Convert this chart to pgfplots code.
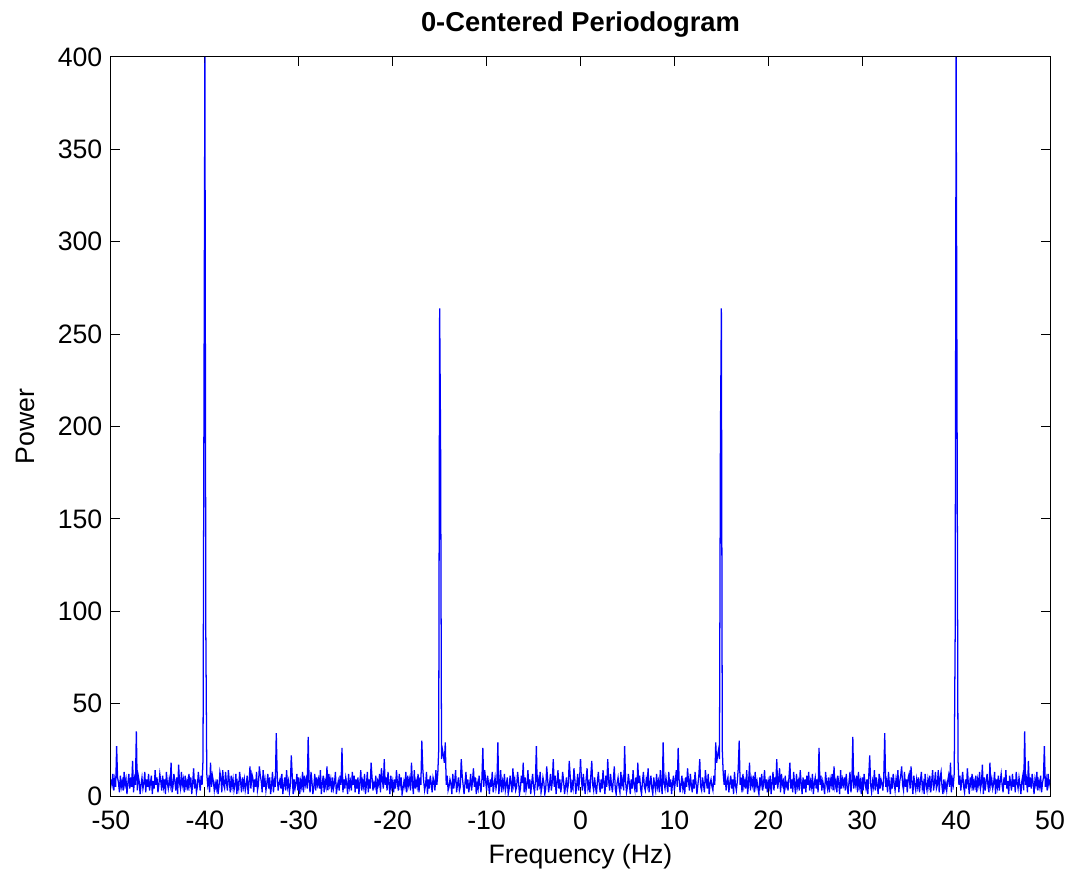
\documentclass[border=0pt]{standalone}
\usepackage{pgfplots}
\usepackage{pgfplotstable}
\pgfplotsset{compat=1.18}
\usepackage{fontspec}
\setmainfont{Liberation Sans}
\pgfplotstableread[row sep=\\]{
f p\\
0.0 20\\ 0.1 9\\ 0.2 3\\ 0.3 12\\ 0.4 6\\ 0.5 1\\ 0.6 9\\ 0.7 15\\ 0.8 4\\ 0.9 7\\
1.0 2\\ 1.1 11\\ 1.2 19\\ 1.3 6\\ 1.4 3\\ 1.5 10\\ 1.6 5\\ 1.7 1\\ 1.8 8\\ 1.9 13\\
2.0 6\\ 2.1 2\\ 2.2 9\\ 2.3 4\\ 2.4 14\\ 2.5 7\\ 2.6 1\\ 2.7 11\\ 2.8 5\\ 2.9 20\\
3.0 8\\ 3.1 3\\ 3.2 12\\ 3.3 6\\ 3.4 2\\ 3.5 9\\ 3.6 16\\ 3.7 4\\ 3.8 1\\ 3.9 7\\
4.0 10\\ 4.1 5\\ 4.2 2\\ 4.3 13\\ 4.4 6\\ 4.5 9\\ 4.6 3\\ 4.7 27\\ 4.8 8\\ 4.9 2\\
5.0 5\\ 5.1 12\\ 5.2 7\\ 5.3 1\\ 5.4 9\\ 5.5 4\\ 5.6 14\\ 5.7 6\\ 5.8 3\\ 5.9 10\\
6.0 2\\ 6.1 18\\ 6.2 7\\ 6.3 11\\ 6.4 4\\ 6.5 1\\ 6.6 8\\ 6.7 13\\ 6.8 5\\ 6.9 3\\
7.0 9\\ 7.1 6\\ 7.2 15\\ 7.3 2\\ 7.4 7\\ 7.5 11\\ 7.6 4\\ 7.7 1\\ 7.8 10\\ 7.9 6\\
8.0 3\\ 8.1 12\\ 8.2 5\\ 8.3 8\\ 8.4 2\\ 8.5 14\\ 8.6 6\\ 8.7 1\\ 8.8 29\\ 8.9 7\\
9.0 4\\ 9.1 10\\ 9.2 6\\ 9.3 2\\ 9.4 13\\ 9.5 5\\ 9.6 9\\ 9.7 1\\ 9.8 7\\ 9.9 11\\
10.0 3\\ 10.1 8\\ 10.2 14\\ 10.3 5\\ 10.4 26\\ 10.5 9\\ 10.6 2\\ 10.7 6\\ 10.8 11\\ 10.9 4\\
11.0 7\\ 11.1 1\\ 11.2 10\\ 11.3 5\\ 11.4 15\\ 11.5 8\\ 11.6 3\\ 11.7 12\\ 11.8 6\\ 11.9 2\\
12.0 9\\ 12.1 4\\ 12.2 13\\ 12.3 7\\ 12.4 1\\ 12.5 6\\ 12.6 11\\ 12.7 20\\ 12.8 5\\ 12.9 3\\
13.0 10\\ 13.1 6\\ 13.2 2\\ 13.3 14\\ 13.4 8\\ 13.5 4\\ 13.6 12\\ 13.7 1\\ 13.8 7\\ 13.9 9\\
14.0 5\\ 14.1 3\\ 14.2 11\\ 14.3 6\\ 14.4 29\\ 14.5 18\\ 14.6 22\\ 14.7 25\\ 14.8 20\\ 14.9 192\\
15.0 264\\ 15.1 25\\ 15.2 12\\ 15.3 6\\ 15.4 14\\ 15.5 3\\ 15.6 8\\ 15.7 10\\ 15.8 2\\ 15.9 7\\
16.0 11\\ 16.1 4\\ 16.2 9\\ 16.3 1\\ 16.4 13\\ 16.5 6\\ 16.6 3\\ 16.7 8\\ 16.8 15\\ 16.9 30\\
17.0 6\\ 17.1 10\\ 17.2 2\\ 17.3 12\\ 17.4 5\\ 17.5 8\\ 17.6 4\\ 17.7 14\\ 17.8 1\\ 17.9 7\\
18.0 18\\ 18.1 3\\ 18.2 9\\ 18.3 6\\ 18.4 11\\ 18.5 2\\ 18.6 13\\ 18.7 5\\ 18.8 8\\ 18.9 4\\
19.0 1\\ 19.1 10\\ 19.2 6\\ 19.3 12\\ 19.4 3\\ 19.5 7\\ 19.6 14\\ 19.7 4\\ 19.8 9\\ 19.9 2\\
20.0 8\\ 20.1 5\\ 20.2 11\\ 20.3 1\\ 20.4 7\\ 20.5 13\\ 20.6 3\\ 20.7 10\\ 20.8 6\\ 20.9 20\\
21.0 4\\ 21.1 9\\ 21.2 15\\ 21.3 2\\ 21.4 12\\ 21.5 6\\ 21.6 8\\ 21.7 1\\ 21.8 11\\ 21.9 5\\
22.0 7\\ 22.1 3\\ 22.2 10\\ 22.3 18\\ 22.4 4\\ 22.5 9\\ 22.6 2\\ 22.7 13\\ 22.8 6\\ 22.9 1\\
23.0 12\\ 23.1 5\\ 23.2 8\\ 23.3 3\\ 23.4 14\\ 23.5 7\\ 23.6 1\\ 23.7 10\\ 23.8 4\\ 23.9 9\\
24.0 2\\ 24.1 11\\ 24.2 6\\ 24.3 13\\ 24.4 3\\ 24.5 8\\ 24.6 5\\ 24.7 12\\ 24.8 1\\ 24.9 7\\
25.0 10\\ 25.1 4\\ 25.2 9\\ 25.3 2\\ 25.4 26\\ 25.5 6\\ 25.6 11\\ 25.7 3\\ 25.8 8\\ 25.9 5\\
26.0 1\\ 26.1 13\\ 26.2 7\\ 26.3 4\\ 26.4 10\\ 26.5 2\\ 26.6 9\\ 26.7 6\\ 26.8 12\\ 26.9 3\\
27.0 16\\ 27.1 5\\ 27.2 8\\ 27.3 2\\ 27.4 11\\ 27.5 7\\ 27.6 1\\ 27.7 14\\ 27.8 4\\ 27.9 9\\
28.0 6\\ 28.1 10\\ 28.2 3\\ 28.3 12\\ 28.4 5\\ 28.5 1\\ 28.6 8\\ 28.7 13\\ 28.8 2\\ 28.9 7\\
29.0 32\\ 29.1 4\\ 29.2 9\\ 29.3 6\\ 29.4 11\\ 29.5 2\\ 29.6 13\\ 29.7 5\\ 29.8 8\\ 29.9 1\\
30.0 10\\ 30.1 3\\ 30.2 12\\ 30.3 7\\ 30.4 4\\ 30.5 9\\ 30.6 1\\ 30.7 11\\ 30.8 22\\ 30.9 6\\
31.0 2\\ 31.1 8\\ 31.2 5\\ 31.3 14\\ 31.4 3\\ 31.5 10\\ 31.6 6\\ 31.7 1\\ 31.8 12\\ 31.9 4\\
32.0 9\\ 32.1 7\\ 32.2 3\\ 32.3 11\\ 32.4 34\\ 32.5 5\\ 32.6 8\\ 32.7 2\\ 32.8 13\\ 32.9 6\\
33.0 1\\ 33.1 10\\ 33.2 4\\ 33.3 12\\ 33.4 7\\ 33.5 3\\ 33.6 9\\ 33.7 5\\ 33.8 14\\ 33.9 2\\
34.0 8\\ 34.1 11\\ 34.2 16\\ 34.3 6\\ 34.4 3\\ 34.5 13\\ 34.6 5\\ 34.7 9\\ 34.8 2\\ 34.9 10\\
35.0 12\\ 35.1 4\\ 35.2 16\\ 35.3 7\\ 35.4 1\\ 35.5 11\\ 35.6 6\\ 35.7 3\\ 35.8 9\\ 35.9 5\\
36.0 10\\ 36.1 2\\ 36.2 8\\ 36.3 13\\ 36.4 4\\ 36.5 7\\ 36.6 1\\ 36.7 12\\ 36.8 6\\ 36.9 3\\
37.0 9\\ 37.1 5\\ 37.2 11\\ 37.3 2\\ 37.4 8\\ 37.5 14\\ 37.6 3\\ 37.7 7\\ 37.8 13\\ 37.9 4\\
38.0 6\\ 38.1 14\\ 38.2 2\\ 38.3 10\\ 38.4 13\\ 38.5 5\\ 38.6 1\\ 38.7 9\\ 38.8 4\\ 38.9 7\\
39.0 3\\ 39.1 8\\ 39.2 11\\ 39.3 5\\ 39.4 18\\ 39.5 2\\ 39.6 9\\ 39.7 6\\ 39.8 12\\ 39.9 88\\
40.0 400\\ 40.1 210\\ 40.2 20\\ 40.3 6\\ 40.4 11\\ 40.5 3\\ 40.6 8\\ 40.7 13\\ 40.8 5\\ 40.9 2\\
41.0 9\\ 41.1 4\\ 41.2 15\\ 41.3 7\\ 41.4 1\\ 41.5 10\\ 41.6 6\\ 41.7 12\\ 41.8 3\\ 41.9 8\\
42.0 5\\ 42.1 11\\ 42.2 2\\ 42.3 9\\ 42.4 6\\ 42.5 13\\ 42.6 4\\ 42.7 7\\ 42.8 17\\ 42.9 1\\
43.0 10\\ 43.1 3\\ 43.2 8\\ 43.3 12\\ 43.4 5\\ 43.5 2\\ 43.6 18\\ 43.7 6\\ 43.8 9\\ 43.9 4\\
44.0 7\\ 44.1 13\\ 44.2 1\\ 44.3 9\\ 44.4 5\\ 44.5 11\\ 44.6 3\\ 44.7 8\\ 44.8 12\\ 44.9 6\\
45.0 2\\ 45.1 10\\ 45.2 6\\ 45.3 14\\ 45.4 4\\ 45.5 8\\ 45.6 1\\ 45.7 11\\ 45.8 7\\ 45.9 3\\
46.0 12\\ 46.1 5\\ 46.2 9\\ 46.3 2\\ 46.4 13\\ 46.5 7\\ 46.6 4\\ 46.7 10\\ 46.8 6\\ 46.9 1\\
47.0 8\\ 47.1 11\\ 47.2 3\\ 47.3 35\\ 47.4 6\\ 47.5 9\\ 47.6 2\\ 47.7 19\\ 47.8 5\\ 47.9 10\\
48.0 4\\ 48.1 12\\ 48.2 7\\ 48.3 1\\ 48.4 9\\ 48.5 6\\ 48.6 13\\ 48.7 3\\ 48.8 8\\ 48.9 5\\
49.0 11\\ 49.1 2\\ 49.2 7\\ 49.3 10\\ 49.4 27\\ 49.5 5\\ 49.6 9\\ 49.7 3\\ 49.8 12\\ 49.9 6\\
50.0 9\\
}\half
\begin{document}
\begin{tikzpicture}
\begin{axis}[
  at={(0,0)}, anchor=south west,
  scale only axis, width=704.25pt, height=554.25pt,
  xmin=-50, xmax=50, ymin=0, ymax=400,
  xtick={-50,-40,...,50}, ytick={0,50,...,400},
  tick align=inside, major tick length=7pt,
  axis line style={black, line width=0.75pt},
  every tick/.style={black, line width=0.75pt},
  /pgf/number format/assume math mode=true,
  tick label style={font=\fontsize{20}{24}\selectfont},
  xticklabel style={yshift=-8pt},
  yticklabel style={xshift=-3pt},
  title={\textbf{0-Centered Periodogram}},
  title style={font=\fontsize{20.5}{24}\selectfont, at={(axis description cs:0.5,1)}, anchor=center, yshift=18.75pt},
  xlabel={Frequency (Hz)},
  xlabel style={font=\fontsize{20}{24}\selectfont, at={(axis description cs:0.5,0)}, anchor=center, yshift=-45.75pt},
  ylabel={Power},
  ylabel style={font=\fontsize{20}{24}\selectfont, at={(axis description cs:0,0.5)}, anchor=center, rotate=0, yshift=64.5pt},
]
\addplot[color={rgb,255:red,0;green,0;blue,255}, line width=0.95pt, mark=none] table[x expr=-\thisrow{f}, y=p]{\half};
\addplot[color={rgb,255:red,0;green,0;blue,255}, line width=0.95pt, mark=none] table[x=f, y=p]{\half};
\end{axis}
\pgfresetboundingbox
\path (-83.25pt,-59.25pt) rectangle (717.75pt,597pt);
\end{tikzpicture}
\end{document}
